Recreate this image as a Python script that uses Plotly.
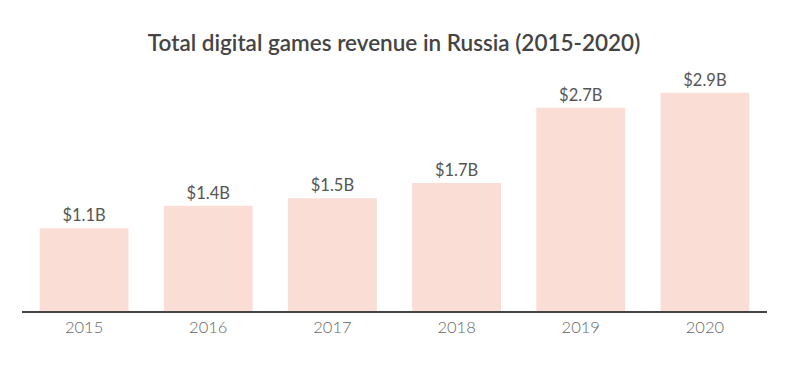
import plotly.graph_objects as go

years = ["2015", "2016", "2017", "2018", "2019", "2020"]
revenue = [1.1, 1.4, 1.5, 1.7, 2.7, 2.9]
labels = ["$1.1B", "$1.4B", "$1.5B", "$1.7B", "$2.7B", "$2.9B"]

fig = go.Figure(go.Bar(
    x=years, y=revenue, text=labels, textposition="outside",
    marker=dict(color="#FADDD4", line=dict(width=0)),
    textfont=dict(family="Lato", size=16.5, color="#555555"),
    cliponaxis=False, width=0.715,
))

fig.update_layout(
    width=796, height=375,
    margin=dict(l=14, r=37, t=72, b=72),
    paper_bgcolor="white", plot_bgcolor="white",
    title=dict(text="Total digital games revenue in Russia (2015-2020)",
               x=0.485, xanchor="center", y=0.906, yanchor="middle",
               font=dict(family="Lato", size=22.5, color="#444444", weight=600)),
    showlegend=False,
    bargap=0.285,
)
fig.update_xaxes(showline=True, linecolor="#444444", linewidth=1.5,
                 tickfont=dict(family="Lato Light, Lato", size=16.5, color="#666666", weight=300),
                 ticks="", showgrid=False)
fig.update_yaxes(visible=False, range=[0, 3.07], showgrid=False)

fig.write_html("out.html")
